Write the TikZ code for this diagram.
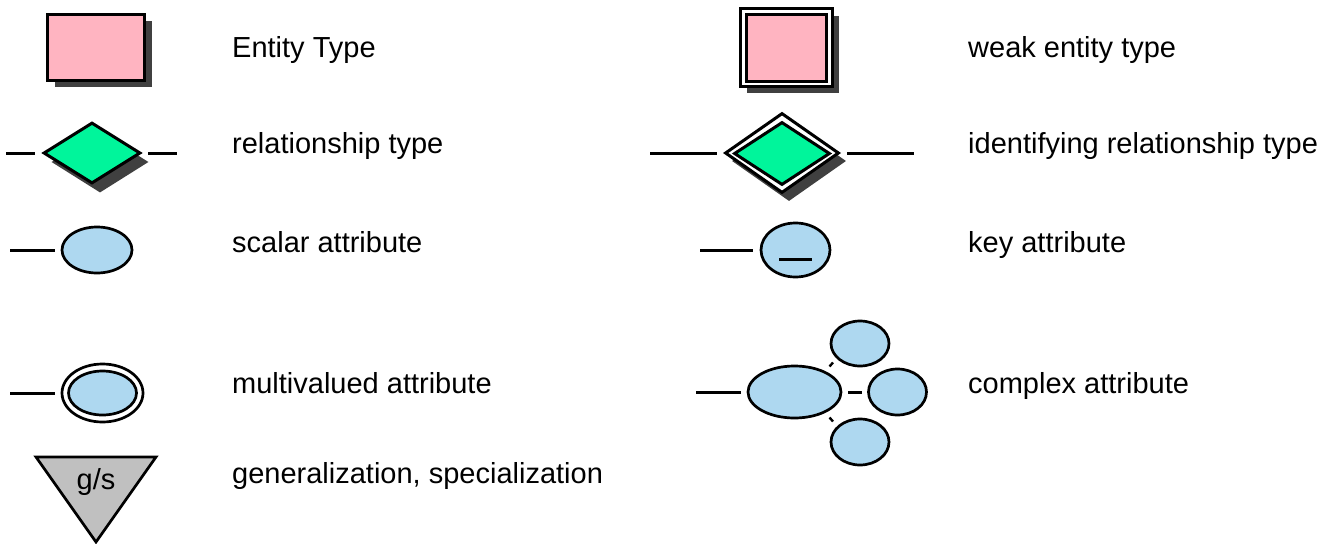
\documentclass[tikz,border=0pt]{standalone}
\usepackage{fontspec}
\setmainfont{Liberation Sans}
\usetikzlibrary{shapes.geometric}
\definecolor{entpink}{RGB}{255,180,193}
\definecolor{relgreen}{RGB}{0,245,155}
\definecolor{attblue}{RGB}{174,216,240}
\definecolor{gsgray}{RGB}{192,192,192}
\definecolor{shadowgray}{RGB}{64,64,64}
\begin{document}
\begin{tikzpicture}[x=1pt,y=-1pt,
  lbl/.style={anchor=base west,inner sep=0pt,font=\fontsize{29}{34}\selectfont},
  shad/.style={fill=shadowgray,draw=none,inner sep=0pt},
  entbox/.style={draw=black,line width=3pt,fill=entpink,inner sep=0pt},
  whitebox/.style={draw=black,line width=3pt,fill=white,inner sep=0pt},
  relbox/.style={diamond,draw=black,line width=3pt,fill=relgreen,inner sep=0pt},
  reldshad/.style={diamond,fill=shadowgray,draw=none,inner sep=0pt},
  reldwhite/.style={diamond,draw=black,line width=3pt,fill=white,inner sep=0pt},
  attr/.style={ellipse,draw=black,line width=2.7pt,fill=attblue,inner sep=0pt},
  attrwhite/.style={ellipse,draw=black,line width=2.7pt,fill=white,inner sep=0pt},
  conn/.style={line width=3pt,line cap=butt},
  tick/.style={line width=2.4pt}]
\useasboundingbox (0,0) rectangle (1337,543);

% Entity type
\node[shad,minimum width=97pt,minimum height=65pt] (entS) at (103,54) {};
\node[entbox,minimum width=97pt,minimum height=65pt] (ent) at (95.5,47.5) {};
\node[lbl] (entL) at (232,57) {Entity Type};

% Weak entity type
\node[shad,minimum width=92pt,minimum height=77pt] (weakS) at (793,54.5) {};
\node[whitebox,minimum width=92pt,minimum height=77pt] (weakO) at (786,47.5) {};
\node[entbox,minimum width=80pt,minimum height=66pt] (weakI) at (786,48) {};
\node[lbl] (weakL) at (968,57) {weak entity type};

% Relationship type
\node[reldshad,minimum width=97pt,minimum height=61pt] (relS) at (100,162) {};
\node[relbox,minimum width=97pt,minimum height=61pt] (rel) at (92,153) {};
\coordinate (relLa) at (6,153); \coordinate (relLb) at (35,153);
\coordinate (relRa) at (148,153); \coordinate (relRb) at (177,153);
\draw[conn] (relLa) -- (relLb);
\draw[conn] (relRa) -- (relRb);
\node[lbl] (relL) at (232,153) {relationship type};

% Identifying relationship type
\node[reldshad,minimum width=114pt,minimum height=80pt] (idrS) at (789,161) {};
\node[reldwhite,minimum width=114pt,minimum height=80pt] (idrO) at (782,153) {};
\node[relbox,minimum width=96pt,minimum height=63pt] (idrI) at (782,153.5) {};
\coordinate (idrLa) at (650,153); \coordinate (idrLb) at (717,153);
\coordinate (idrRa) at (847,153); \coordinate (idrRb) at (914,153);
\draw[conn] (idrLa) -- (idrLb);
\draw[conn] (idrRa) -- (idrRb);
\node[lbl] (idrL) at (968,153) {identifying relationship type};

% Scalar attribute
\node[attr,minimum width=70pt,minimum height=46pt] (sca) at (97,250) {};
\coordinate (scaLa) at (10,250); \coordinate (scaLb) at (55,250);
\draw[conn] (scaLa) -- (scaLb);
\node[lbl] (scaL) at (232,252) {scalar attribute};

% Key attribute
\node[attr,minimum width=69pt,minimum height=54pt] (key) at (795.5,250) {};
\coordinate (keyLa) at (700,250); \coordinate (keyLb) at (753,250);
\draw[conn] (keyLa) -- (keyLb);
\coordinate (keyUa) at (779,259); \coordinate (keyUb) at (812,259);
\draw[conn] (keyUa) -- (keyUb);
\node[lbl] (keyL) at (968,252) {key attribute};

% Multivalued attribute
\node[attrwhite,minimum width=81pt,minimum height=58pt] (mvO) at (102.5,393) {};
\node[attr,minimum width=68pt,minimum height=44pt] (mvI) at (102.5,393) {};
\coordinate (mvLa) at (10,393); \coordinate (mvLb) at (55,393);
\draw[conn] (mvLa) -- (mvLb);
\node[lbl] (mvL) at (232,393) {multivalued attribute};

% Complex attribute
\node[attr,minimum width=93pt,minimum height=52pt] (cx) at (794.5,392) {};
\node[attr,minimum width=58pt,minimum height=45pt] (cxT) at (860,343.5) {};
\node[attr,minimum width=58pt,minimum height=46pt] (cxR) at (897.5,392) {};
\node[attr,minimum width=58pt,minimum height=46pt] (cxB) at (860,442) {};
\coordinate (cxLa) at (696,392); \coordinate (cxLb) at (741,392);
\draw[conn] (cxLa) -- (cxLb);
\coordinate (cxTa) at (829.5,366.5); \coordinate (cxTb) at (833,362.5);
\draw[tick] (cxTa) -- (cxTb);
\coordinate (cxRa) at (848,392); \coordinate (cxRb) at (862,392);
\draw[conn] (cxRa) -- (cxRb);
\coordinate (cxBa) at (829.5,417.5); \coordinate (cxBb) at (833,421.5);
\draw[tick] (cxBa) -- (cxBb);
\node[lbl] (cxL) at (968,393) {complex attribute};

% Generalization / specialization
\coordinate (gsA) at (36,457); \coordinate (gsB) at (156,457); \coordinate (gsC) at (96,542);
\draw[line width=2.7pt,line join=miter,fill=gsgray] (gsA) -- (gsB) -- (gsC) -- cycle;
\node[inner sep=0pt,anchor=base,font=\fontsize{29}{34}\selectfont] (gsT) at (96,489) {g/s};
\node[lbl] (gsL) at (232,483) {generalization, specialization};
\end{tikzpicture}
\end{document}
